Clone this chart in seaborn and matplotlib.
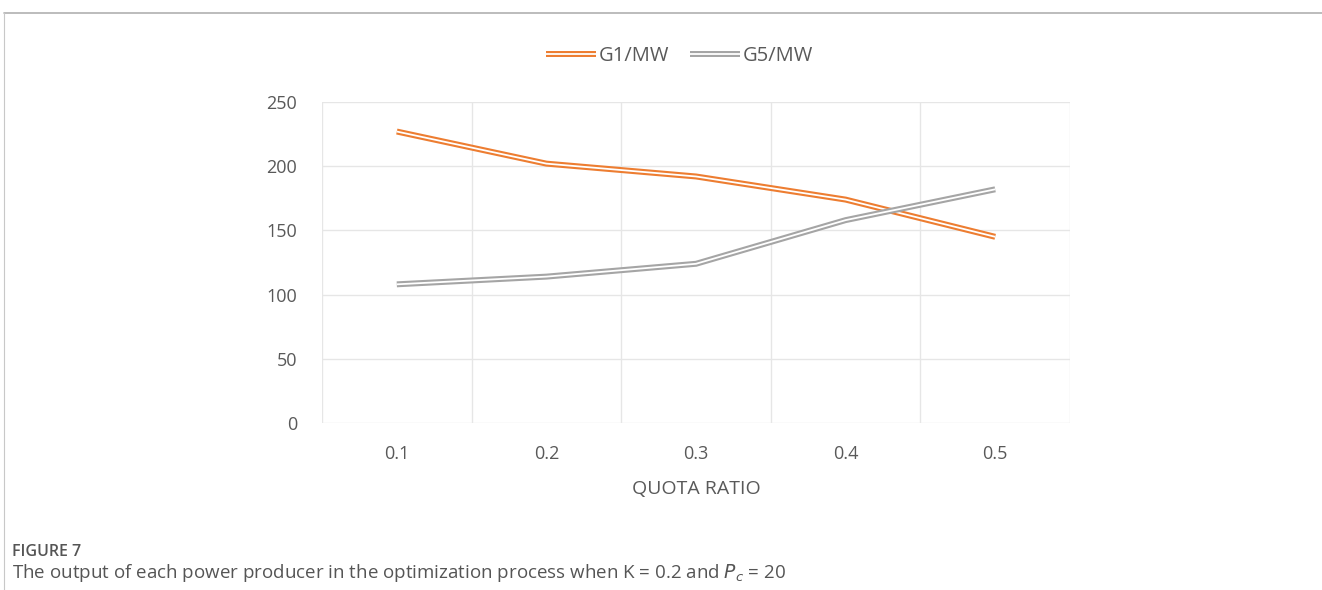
import matplotlib
matplotlib.use("Agg")
import matplotlib.pyplot as plt
import matplotlib.patheffects as pe
from matplotlib.lines import Line2D
import seaborn as sns
import pandas as pd
import numpy as np

categories = ["0.1", "0.2", "0.3", "0.4", "0.5"]
g1 = [227, 202, 192, 174, 145]
g5 = [108, 114, 124, 158, 182]
series_names = ["G1/MW", "G5/MW"]
yticks = [0, 50, 100, 150, 200, 250]

df = pd.DataFrame({
    "x": list(range(len(categories))) * 2,
    "value": g1 + g5,
    "series": [series_names[0]] * len(categories) + [series_names[1]] * len(categories),
})

sns.set_theme(style="white")
plt.rcParams["font.family"] = ["Open Sans", "DejaVu Sans"]

fig = plt.figure(figsize=(13.22, 5.90), dpi=100)
ax = fig.add_axes([322 / 1322, 1 - 423 / 590, (1070 - 322) / 1322, (423 - 102) / 590])

palette = {"G1/MW": "#ED7D31", "G5/MW": "#A5A5A5"}
OUTER, INNER = 4.3, 1.3
sns.lineplot(data=df, x="x", y="value", hue="series", palette=palette, ax=ax,
             linewidth=INNER, legend=False)

for line, name in zip(ax.lines, series_names):
    col = palette[name]
    line.set_color("white")
    line.set_solid_capstyle("butt")
    line.set_solid_joinstyle("round")
    line.set_path_effects([pe.Stroke(linewidth=OUTER, foreground=col, capstyle="butt"), pe.Normal()])
    line.set_label(name)

ax.set_xlim(-0.5, len(categories) - 0.5)
ax.set_ylim(0, 250)
ax.set_xticks(range(len(categories)))
ax.set_xticklabels(categories)
ax.set_xticks(np.arange(-0.5, len(categories), 1.0), minor=True)
ax.set_yticks(yticks)
ax.grid(False)
ax.grid(axis="y", which="major", color="#e6e6e6", linewidth=1.0)
ax.grid(axis="x", which="minor", color="#e6e6e6", linewidth=1.0)
for s in ax.spines.values():
    s.set_visible(False)
ax.tick_params(axis="both", which="both", length=0, labelsize=13, colors="#595959")
ax.tick_params(axis="y", pad=18)
ax.tick_params(axis="x", pad=16)
ax.set_xlabel("QUOTA RATIO", fontsize=14, color="#595959", labelpad=12)
ax.set_ylabel("")

handles = [Line2D([0], [0], color="white", linewidth=INNER, solid_capstyle="butt",
                  path_effects=[pe.Stroke(linewidth=OUTER, foreground=palette[n], capstyle="butt"), pe.Normal()])
           for n in series_names]
fig.legend(handles, series_names, loc="center", bbox_to_anchor=(0.514, 1 - 56 / 590),
           ncol=2, frameon=False, fontsize=14.5, labelcolor="#595959",
           handlelength=2.5, handletextpad=0.15, columnspacing=1.0)

# frame lines
fig.add_artist(Line2D([4 / 1322, 1.0], [1 - 13 / 590, 1 - 13 / 590], color="#b0b0b0", linewidth=1.2,
                      transform=fig.transFigure))
fig.add_artist(Line2D([4 / 1322, 4 / 1322], [0, 1 - 13 / 590], color="#c8c8c8", linewidth=0.8,
                      transform=fig.transFigure))

fig.text(12 / 1322, 1 - 552 / 590, "FIGURE 7", fontsize=11.5, color="#555555", va="center",
         fontweight="semibold")
fig.text(12 / 1322, 1 - 573 / 590,
         r"The output of each power producer in the optimization process when K = 0.2 and $P_c$ = 20",
         fontsize=13.5, color="#555555", va="center")

fig.savefig("out.png", dpi=100)
